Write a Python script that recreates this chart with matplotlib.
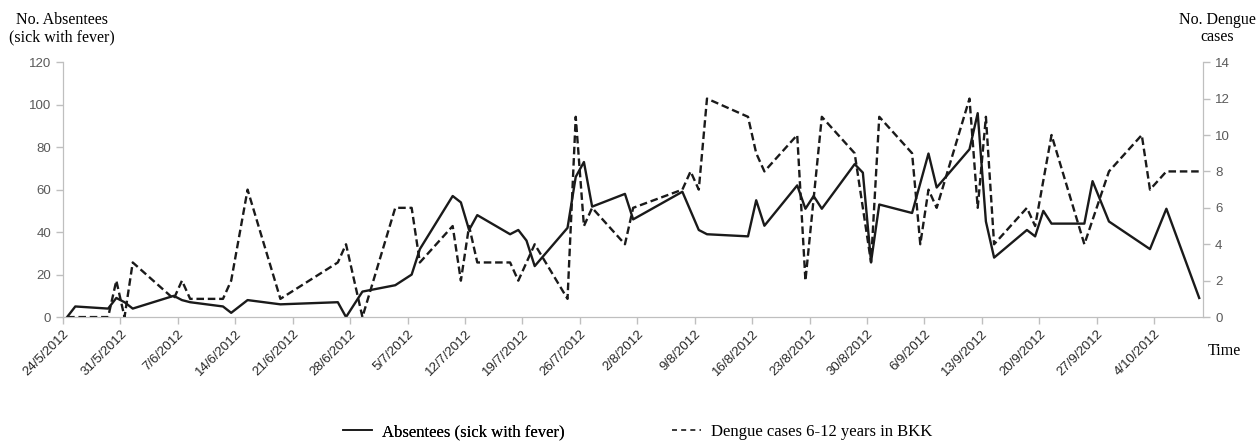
import pandas as pd
import matplotlib
matplotlib.use('Agg')
import matplotlib.pyplot as plt
from matplotlib.lines import Line2D

# absentees (sick with fever), left axis
abs_dates = ['2012-05-24', '2012-05-25', '2012-05-29', '2012-05-30', '2012-05-31', '2012-06-01',
             '2012-06-06', '2012-06-07', '2012-06-08', '2012-06-12', '2012-06-13', '2012-06-15',
             '2012-06-19', '2012-06-26', '2012-06-27', '2012-06-29', '2012-07-03', '2012-07-05',
             '2012-07-06', '2012-07-10', '2012-07-11', '2012-07-12', '2012-07-13', '2012-07-17',
             '2012-07-18', '2012-07-19', '2012-07-20', '2012-07-24', '2012-07-25', '2012-07-26',
             '2012-07-27', '2012-07-31', '2012-08-01', '2012-08-07', '2012-08-09', '2012-08-10',
             '2012-08-15', '2012-08-16', '2012-08-17', '2012-08-21', '2012-08-22', '2012-08-23',
             '2012-08-24', '2012-08-28', '2012-08-29', '2012-08-30', '2012-08-31', '2012-09-04',
             '2012-09-06', '2012-09-07', '2012-09-11', '2012-09-12', '2012-09-13', '2012-09-14',
             '2012-09-18', '2012-09-19', '2012-09-20', '2012-09-21', '2012-09-25', '2012-09-26',
             '2012-09-28', '2012-10-03', '2012-10-05', '2012-10-09']
abs_vals = [0, 5, 4, 9, 7, 4,
            10, 8, 7, 5, 2, 8,
            6, 7, 0, 12, 15, 20,
            32, 57, 54, 41, 48, 39,
            41, 36, 24, 42, 66, 73,
            52, 58, 46, 59, 41, 39,
            38, 55, 43, 62, 51, 57,
            51, 72, 68, 26, 53, 49,
            77, 61, 79, 96, 45, 28,
            41, 38, 50, 44, 44, 64,
            45, 32, 51, 9]

# dengue cases 6-12 years in BKK, right axis
den_dates = ['2012-05-24', '2012-05-29', '2012-05-30', '2012-05-31', '2012-06-01', '2012-06-06',
             '2012-06-07', '2012-06-08', '2012-06-12', '2012-06-13', '2012-06-15', '2012-06-19',
             '2012-06-26', '2012-06-27', '2012-06-29', '2012-07-03', '2012-07-05', '2012-07-06',
             '2012-07-10', '2012-07-11', '2012-07-12', '2012-07-13', '2012-07-17', '2012-07-18',
             '2012-07-20', '2012-07-24', '2012-07-25', '2012-07-26', '2012-07-27', '2012-07-31',
             '2012-08-01', '2012-08-07', '2012-08-08', '2012-08-09', '2012-08-10', '2012-08-15',
             '2012-08-16', '2012-08-17', '2012-08-21', '2012-08-22', '2012-08-24', '2012-08-28',
             '2012-08-30', '2012-08-31', '2012-09-04', '2012-09-05', '2012-09-06', '2012-09-07',
             '2012-09-11', '2012-09-12', '2012-09-13', '2012-09-14', '2012-09-18', '2012-09-19',
             '2012-09-21', '2012-09-25', '2012-09-28', '2012-10-02', '2012-10-03', '2012-10-05',
             '2012-10-09']
den_vals = [0, 0, 2, 0, 3, 1,
            2, 1, 1, 2, 7, 1,
            3, 4, 0, 6, 6, 3,
            5, 2, 5, 3, 3, 2,
            4, 1, 11, 5, 6, 4,
            6, 7, 8, 7, 12, 11,
            9, 8, 10, 2, 11, 9,
            3, 11, 9, 4, 7, 6,
            12, 6, 11, 4, 6, 5,
            10, 4, 8, 10, 7, 8,
            8]

week_ticks = pd.date_range('2012-05-24', '2012-10-04', freq='7D')
tick_labels = [f'{d.day}/{d.month}/{d.year}' for d in week_ticks]

# excel puts each day's point in the middle of the day
half = pd.Timedelta(hours=12)
xa = pd.to_datetime(abs_dates) + half
xd = pd.to_datetime(den_dates) + half

grey = '#bfbfbf'
tick_col = '#595959'
serif = 'Liberation Serif'
dash = (0, (3.2, 1.6))

fig = plt.figure(figsize=(12.6, 4.41), dpi=100)
ax = fig.add_axes([0.05, 0.281, 0.905, 0.578])
ax2 = ax.twinx()

ax.plot(xa, abs_vals, color='#1a1a1a', lw=1.7)
ax2.plot(xd, den_vals, color='#1a1a1a', lw=1.7, linestyle=dash)

ax.set_xlim(pd.Timestamp('2012-05-24'), pd.Timestamp('2012-10-10'))
ax.set_ylim(0, 120)
ax2.set_ylim(0, 14)
ax.set_yticks(range(0, 121, 20))
ax2.set_yticks(range(0, 15, 2))
ax.set_xticks(week_ticks)
ax.set_xticklabels(tick_labels, rotation=45, ha='right', rotation_mode='anchor',
                   fontsize=9.5, color='#262626', family='Liberation Sans')

for a in (ax, ax2):
    a.spines['top'].set_visible(False)
    for s in ('left', 'right', 'bottom'):
        a.spines[s].set_color(grey)
    a.tick_params(axis='both', colors=grey, length=5, width=1)
    a.tick_params(axis='y', labelcolor=tick_col, labelsize=9.5)
ax.tick_params(axis='x', labelcolor='#262626', pad=3)
for t in ax.get_yticklabels() + ax2.get_yticklabels():
    t.set_family('Liberation Sans')

fig.text(0.049, 0.935, 'No. Absentees\n(sick with fever)', ha='center', va='center',
         fontsize=11.5, family=serif, linespacing=1.1)
fig.text(0.966, 0.935, 'No. Dengue\ncases', ha='center', va='center',
         fontsize=11.5, family=serif, linespacing=1.1)
fig.text(0.972, 0.205, 'Time', ha='center', va='center', fontsize=11.5, family=serif)

# two legend entries placed apart like the original, thinner handles
h1 = Line2D([], [], color='#1a1a1a', lw=1.2)
h2 = Line2D([], [], color='#1a1a1a', lw=1.2, linestyle=(0, (3, 2.5)))
leg_kw = dict(loc='center left', frameon=False, borderpad=0, borderaxespad=0,
              handlelength=1.75, handletextpad=0.6, prop={'family': serif, 'size': 12})
leg1 = fig.legend([h1], ['Absentees (sick with fever)'], bbox_to_anchor=(0.272, 0.02), **leg_kw)
fig.add_artist(leg1)
fig.legend([h2], ['Dengue cases 6-12 years in BKK'], bbox_to_anchor=(0.533, 0.02), **leg_kw)

fig.savefig('out.png', dpi=100, facecolor='white')
